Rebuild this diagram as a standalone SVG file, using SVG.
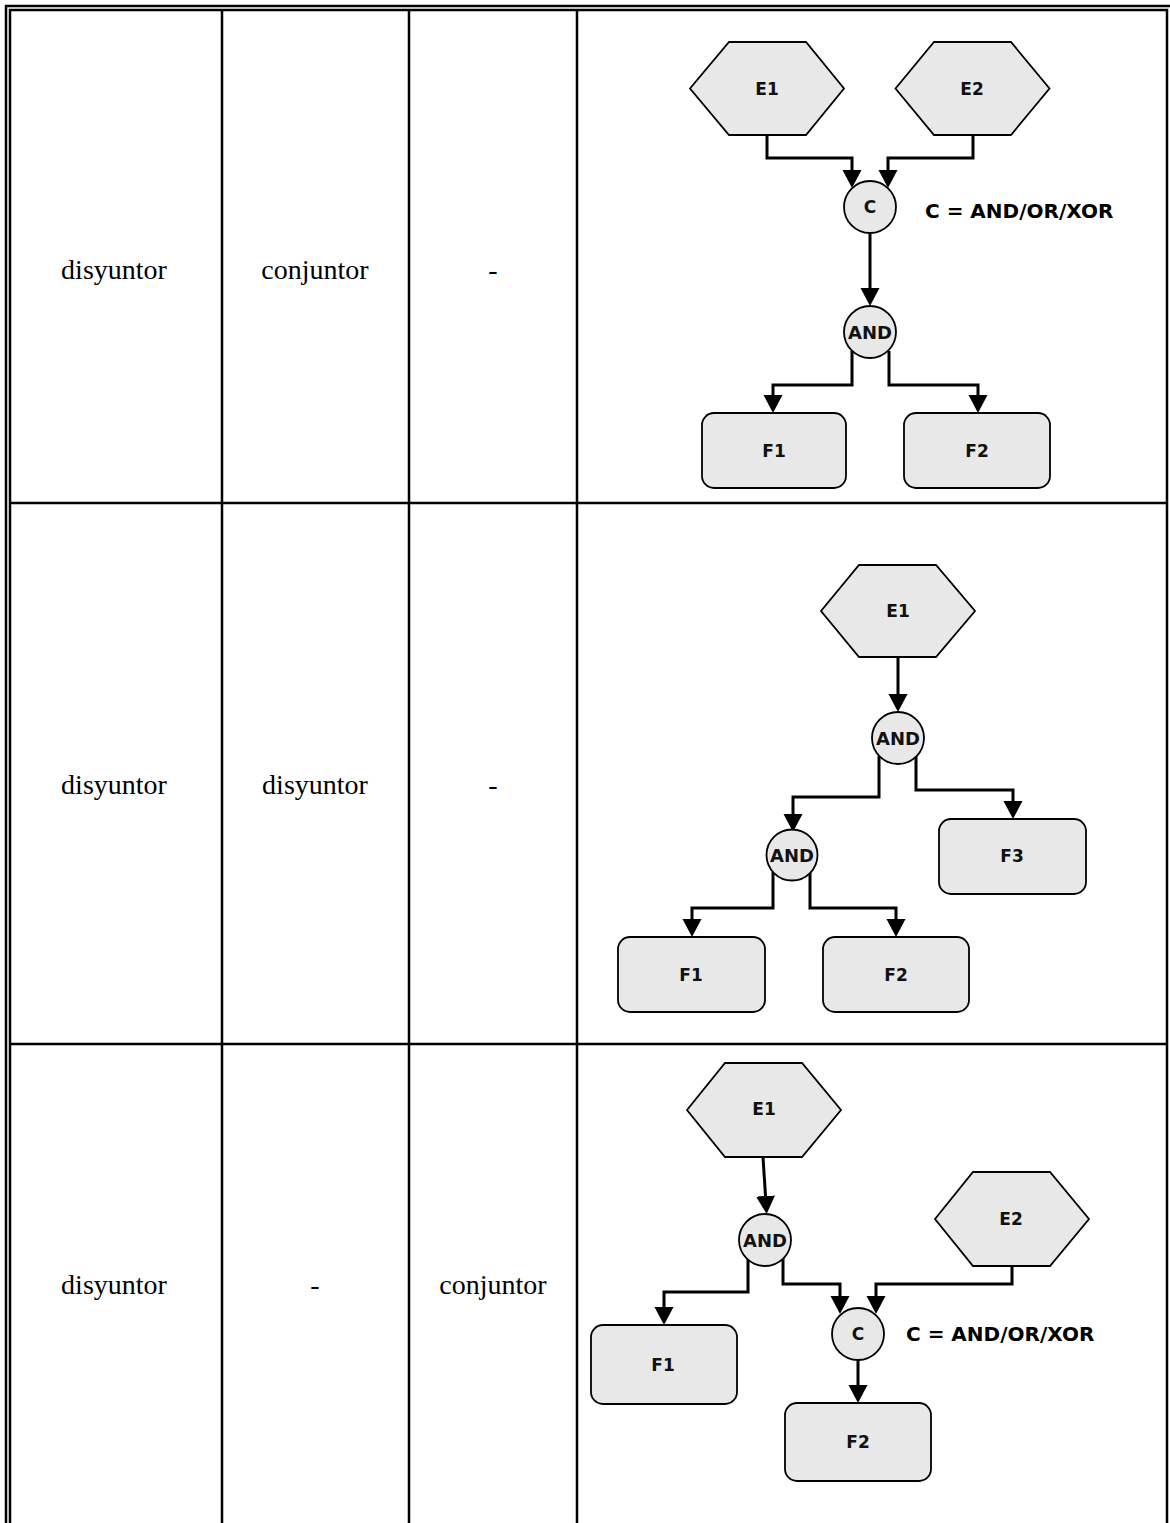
<svg xmlns="http://www.w3.org/2000/svg" width="1170" height="1523" viewBox="0 0 1170 1523">
  <style>
    .grid { stroke: #000; stroke-width: 2.5; fill: none; }
    .cell { font-family: "Liberation Serif", "Times New Roman", serif; font-size: 28px; fill: #000; text-anchor: middle; }
    .shape { fill: #e8e8e8; stroke: #000; stroke-width: 1.8; }
    .lbl { font-family: "DejaVu Sans", Verdana, sans-serif; font-weight: bold; font-size: 17px; fill: #111; text-anchor: middle; }
    .gate { font-family: "DejaVu Sans", Verdana, sans-serif; font-weight: bold; font-size: 18px; fill: #111; text-anchor: middle; }
    .note { font-family: "DejaVu Sans", Verdana, sans-serif; font-weight: bold; font-size: 20px; fill: #000; }
    .wire { fill: none; stroke: #000; stroke-width: 3; }
  </style>
  <defs>
    <marker id="arrow" markerUnits="userSpaceOnUse" markerWidth="20" markerHeight="20" refX="0" refY="9.5" orient="auto">
      <path d="M0,0 L18,9.5 L0,19 Z" fill="#000"/>
    </marker>
  </defs>
  <rect width="1170" height="1523" fill="#fff"/>

  <!-- table frame -->
  <g id="table">
    <path class="grid" d="M6,1523 V6 H1170"/>
    <path class="grid" d="M10,1523 V10 H1167 V1523"/>
    <path class="grid" d="M10,503 H1167 M10,1044 H1167"/>
    <path class="grid" d="M222,10 V1523 M409,10 V1523 M577,10 V1523"/>
  </g>

  <!-- table texts -->
  <g id="cells">
    <text class="cell" x="114" y="279">disyuntor</text>
    <text class="cell" x="315" y="279">conjuntor</text>
    <text class="cell" x="493" y="279">-</text>
    <text class="cell" x="114" y="794">disyuntor</text>
    <text class="cell" x="315" y="794">disyuntor</text>
    <text class="cell" x="493" y="794">-</text>
    <text class="cell" x="114" y="1294">disyuntor</text>
    <text class="cell" x="315" y="1294">-</text>
    <text class="cell" x="493" y="1294">conjuntor</text>
  </g>

  <!-- connectors -->
  <g id="connectors">
    <!-- row 1 -->
    <path class="wire" marker-end="url(#arrow)" d="M767,135 V158 H852 V170"/>
    <path class="wire" marker-end="url(#arrow)" d="M973,135 V158 H888 V170"/>
    <path class="wire" marker-end="url(#arrow)" d="M870,233 V288"/>
    <path class="wire" marker-end="url(#arrow)" d="M852,351 V385 H773 V395"/>
    <path class="wire" marker-end="url(#arrow)" d="M889,351 V385 H978 V395"/>
    <!-- row 2 -->
    <path class="wire" marker-end="url(#arrow)" d="M898,657 V694"/>
    <path class="wire" marker-end="url(#arrow)" d="M879,756 V797 H793 V814"/>
    <path class="wire" marker-end="url(#arrow)" d="M916,756 V790 H1013 V801"/>
    <path class="wire" marker-end="url(#arrow)" d="M773,872 V908 H692 V919"/>
    <path class="wire" marker-end="url(#arrow)" d="M810,872 V908 H896 V919"/>
    <!-- row 3 -->
    <path class="wire" marker-end="url(#arrow)" d="M763,1157 L765.5,1196"/>
    <path class="wire" marker-end="url(#arrow)" d="M748,1258 V1292 H664 V1307"/>
    <path class="wire" marker-end="url(#arrow)" d="M783,1258 V1284 H840 V1296"/>
    <path class="wire" marker-end="url(#arrow)" d="M1012,1266 V1284 H876 V1296"/>
    <path class="wire" marker-end="url(#arrow)" d="M858,1360 V1385"/>
  </g>

  <!-- row 1 nodes -->
  <g id="r1-e1">
    <polygon class="shape" points="690,88.5 729,42 806,42 844,88.5 806,135 729,135"/>
    <text class="lbl" x="767" y="94.5">E1</text>
  </g>
  <g id="r1-e2">
    <polygon class="shape" points="895.5,88.5 934,42 1011,42 1049.5,88.5 1011,135 934,135"/>
    <text class="lbl" x="972" y="94.5">E2</text>
  </g>
  <g id="r1-c">
    <circle class="shape" cx="870" cy="207" r="26"/>
    <text class="lbl" x="870" y="213">C</text>
  </g>
  <g id="r1-note">
    <text class="note" x="925" y="218">C = AND/OR/XOR</text>
  </g>
  <g id="r1-and">
    <circle class="shape" cx="870" cy="332" r="26"/>
    <text class="gate" x="870" y="338.5">AND</text>
  </g>
  <g id="r1-f1">
    <rect class="shape" x="702" y="413" width="144" height="75" rx="12"/>
    <text class="lbl" x="774" y="456.5">F1</text>
  </g>
  <g id="r1-f2">
    <rect class="shape" x="904" y="413" width="146" height="75" rx="12"/>
    <text class="lbl" x="977" y="456.5">F2</text>
  </g>

  <!-- row 2 nodes -->
  <g id="r2-e1">
    <polygon class="shape" points="821,611 859,565 936,565 975,611 936,657 859,657"/>
    <text class="lbl" x="898" y="617">E1</text>
  </g>
  <g id="r2-and1">
    <circle class="shape" cx="898" cy="738" r="26"/>
    <text class="gate" x="898" y="744.5">AND</text>
  </g>
  <g id="r2-and2">
    <circle class="shape" cx="792" cy="855" r="25.5"/>
    <text class="gate" x="792" y="861.5">AND</text>
  </g>
  <g id="r2-f3">
    <rect class="shape" x="939" y="819" width="147" height="75" rx="12"/>
    <text class="lbl" x="1012" y="862">F3</text>
  </g>
  <g id="r2-f1">
    <rect class="shape" x="618" y="937" width="147" height="75" rx="12"/>
    <text class="lbl" x="691" y="981">F1</text>
  </g>
  <g id="r2-f2">
    <rect class="shape" x="823" y="937" width="146" height="75" rx="12"/>
    <text class="lbl" x="896" y="981">F2</text>
  </g>

  <!-- row 3 nodes -->
  <g id="r3-e1">
    <polygon class="shape" points="687,1110 725,1063 802,1063 841,1110 802,1157 725,1157"/>
    <text class="lbl" x="764" y="1115">E1</text>
  </g>
  <g id="r3-e2">
    <polygon class="shape" points="935,1219 973,1172 1050,1172 1089,1219 1050,1266 973,1266"/>
    <text class="lbl" x="1011" y="1225">E2</text>
  </g>
  <g id="r3-and">
    <circle class="shape" cx="765" cy="1240" r="26"/>
    <text class="gate" x="765" y="1246.5">AND</text>
  </g>
  <g id="r3-f1">
    <rect class="shape" x="591" y="1325" width="146" height="79" rx="12"/>
    <text class="lbl" x="663" y="1371">F1</text>
  </g>
  <g id="r3-c">
    <circle class="shape" cx="858" cy="1334" r="26"/>
    <text class="lbl" x="858" y="1340">C</text>
  </g>
  <g id="r3-note">
    <text class="note" x="906" y="1341">C = AND/OR/XOR</text>
  </g>
  <g id="r3-f2">
    <rect class="shape" x="785" y="1403" width="146" height="78" rx="12"/>
    <text class="lbl" x="858" y="1448">F2</text>
  </g>
</svg>
